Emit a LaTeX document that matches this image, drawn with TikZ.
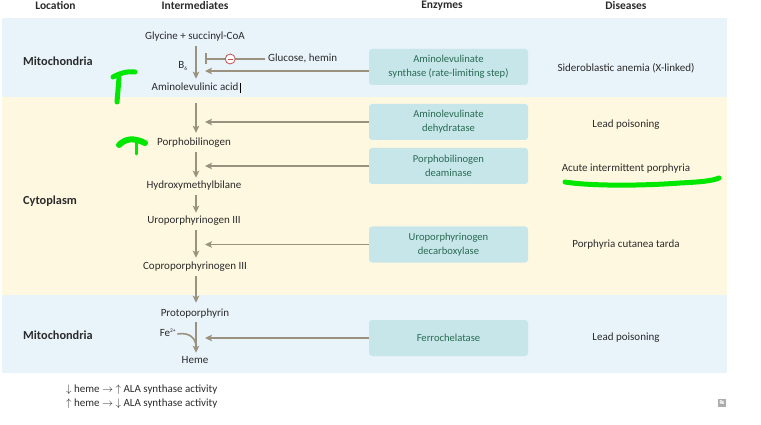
\documentclass[tikz,border=0pt]{standalone}
\usepackage{fontspec}
\setmainfont{Carlito}
\usetikzlibrary{arrows.meta}

\definecolor{mitoblue}{HTML}{E8F3FA}
\definecolor{cytoyellow}{HTML}{FEF8E0}
\definecolor{enzfill}{HTML}{C6E6EA}
\definecolor{enztext}{HTML}{2A6A52}
\definecolor{pathgray}{HTML}{9A927F}
\definecolor{inkgray}{HTML}{2B2B2B}
\definecolor{inhibred}{HTML}{C0504D}
\definecolor{marker}{HTML}{00E800}

\begin{document}
\begin{tikzpicture}[x=1pt,y=-1pt,
  every node/.style={font=\fontsize{11}{13}\selectfont, text=inkgray, inner sep=0pt},
  lbl/.style={text height=8pt, text depth=2.5pt},
  header/.style={font=\fontsize{11.5}{13}\selectfont\bfseries},
  location/.style={font=\fontsize{12.3}{14}\selectfont\bfseries},
  enzyme/.style={fill=enzfill, rounded corners=3pt, minimum width=159pt,
    minimum height=36pt, align=center, text=enztext,
    font=\fontsize{10.6}{13.8}\selectfont},
  flow/.style={draw=pathgray, line width=1.6pt,
    -{Stealth[length=7pt,width=6.5pt,inset=1.5pt]}},
  inhib/.style={draw=pathgray, line width=1.6pt, -{Bar[width=11pt,line width=2pt]}},
  pen/.style={draw=marker, line width=5pt, line cap=round, line join=round},
]
\useasboundingbox (0,0) rectangle (761,425);

% background bands
\fill[mitoblue]   (2,18)  rectangle (727,97);
\fill[cytoyellow] (2,97)  rectangle (727,295);
\fill[mitoblue]   (2,295) rectangle (727,373);

% column headers
\node[header] (hloc) at (55.5,6) {Location};
\node[header] (hint) at (195,6) {Intermediates};
\node[header] (henz) at (442,6) {Enzymes};
\node[header] (hdis) at (626,6) {Diseases};

% locations
\node[location] (loc1) at (58,61)  {Mitochondria};
\node[location] (loc2) at (50,201) {Cytoplasm};
\node[location] (loc3) at (58,335) {Mitochondria};

% pathway intermediates
\coordinate (ax) at (196,0);
\node[lbl] (n0) at (195,37)  {Glycine + succinyl-CoA};
\node[lbl] (n1) at (195,88)  {Aminolevulinic acid};
\node[lbl] (n2) at (194,143) {Porphobilinogen};
\node[lbl] (n3) at (194,186) {Hydroxymethylbilane};
\node[lbl] (n4) at (194,221) {Uroporphyrinogen III};
\node[lbl] (n5) at (195,267) {Coproporphyrinogen III};
\node[lbl] (n6) at (195,314) {Protoporphyrin};
\node[lbl] (n7) at (195,361) {Heme};
\node (b6) at (183,66) {B\textsubscript{\fontsize{5.5}{6}\selectfont 6}};
\node (fe) at (168,333) {Fe\textsuperscript{\fontsize{5.5}{6}\selectfont 2+}};

% text cursor after the acid name
\draw[black, line width=0.6pt] ([xshift=1.5pt,yshift=-0.5pt]n1.north east) -- ([xshift=1.5pt,yshift=0.5pt]n1.south east);

% pathway arrows
\draw[flow, shorten <=3.8pt, shorten >=3.8pt]  (n0.south -| ax) -- (n1.north -| ax);
\draw[flow, shorten <=9.7pt, shorten >=4.7pt] (n1.south -| ax) -- (n2.north -| ax);
\draw[flow, shorten <=3.8pt, shorten >=2.8pt]  (n2.south -| ax) -- (n3.north -| ax);
\draw[flow, shorten <=3.8pt, shorten >=2.8pt]  (n3.south -| ax) -- (n4.north -| ax);
\draw[flow, shorten <=3.8pt, shorten >=3.8pt]  (n4.south -| ax) -- (n5.north -| ax);
\draw[flow, shorten <=3.8pt, shorten >=5.8pt]  (n5.south -| ax) -- (n6.north -| ax);
\draw[flow, shorten <=2.8pt, shorten >=2.8pt]  (n6.south -| ax) -- (n7.north -| ax);

% iron joins the last step
\coordinate (femerge) at (196,347);
\draw[draw=pathgray, line width=1.6pt] ([xshift=1pt,yshift=-1pt]fe.east) .. controls +(12,-2) and +(0,-9) .. (femerge);

% enzymes
\node[enzyme] (e1) at (448.5,67)  {Aminolevulinate\\synthase (rate-limiting step)};
\node[enzyme] (e2) at (448.5,122) {Aminolevulinate\\dehydratase};
\node[enzyme] (e3) at (448.5,166) {Porphobilinogen\\deaminase};
\node[enzyme] (e4) at (448.5,244.5) {Uroporphyrinogen\\decarboxylase};
\node[enzyme] (e5) at (448.5,338) {Ferrochelatase};

\draw[flow, shorten >=9pt] ([yshift=-4pt]e1.west) -- ([yshift=-4pt]e1.west -| ax);
\draw[flow, shorten >=9pt] (e2.west) -- (e2.west -| ax);
\draw[flow, shorten >=9pt] (e3.west) -- (e3.west -| ax);
\draw[flow, shorten >=9pt] (e4.west) -- (e4.west -| ax);
\draw[flow, shorten >=9pt] (e5.west) -- (e5.west -| ax);

% regulation of the rate-limiting step
\node[lbl, anchor=west] (glu) at (268,59) {Glucose, hemin};
\coordinate (tbar) at (205,59);
\draw[inhib, shorten <=3pt] (glu.west) -- (tbar)
  node[pos=0.6, circle, draw=inhibred, fill=white, line width=0.8pt,
       minimum size=10pt, inner sep=0pt] (minus) {};
\draw[inhibred, line width=0.8pt] ([xshift=-2.6pt]minus.center) -- ([xshift=2.6pt]minus.center);

% diseases
\node[lbl] (d1) at (626,69)  {Sideroblastic anemia (X-linked)};
\node[lbl] (d2) at (626,125) {Lead poisoning};
\node[lbl] (d3) at (626,169) {Acute intermittent porphyria};
\node[lbl] (d4) at (626,245) {Porphyria cutanea tarda};
\node[lbl] (d5) at (626,338) {Lead poisoning};

% feedback note
\node[lbl, anchor=west] (fb1) at (66,390) {$\downarrow$ heme $\rightarrow$ $\uparrow$ ALA synthase activity};
\node[lbl, anchor=west] (fb2) at (66,404) {$\uparrow$ heme $\rightarrow$ $\downarrow$ ALA synthase activity};

% small Rx badge
\node[fill=gray!65, text=white, minimum width=8pt, minimum height=8pt,
      font=\fontsize{6}{6}\selectfont\bfseries] (rx) at (722,403) {R\kern-1.2pt x};

% green pen marks
\draw[pen] (113,77) .. controls (120,73) and (128,71) .. (135,72);
\draw[pen] (119,78) -- (117,102);
\draw[pen, line width=6pt] (119,145) .. controls (125,139) and (133,137) .. (145,143);
\draw[pen, line width=3pt] (136,141) -- (136,154);
\draw[pen] (565,182) .. controls (590,186) and (640,186) .. (680,183)
  .. controls (700,182) and (712,181) .. (719,178);
\end{tikzpicture}
\end{document}
